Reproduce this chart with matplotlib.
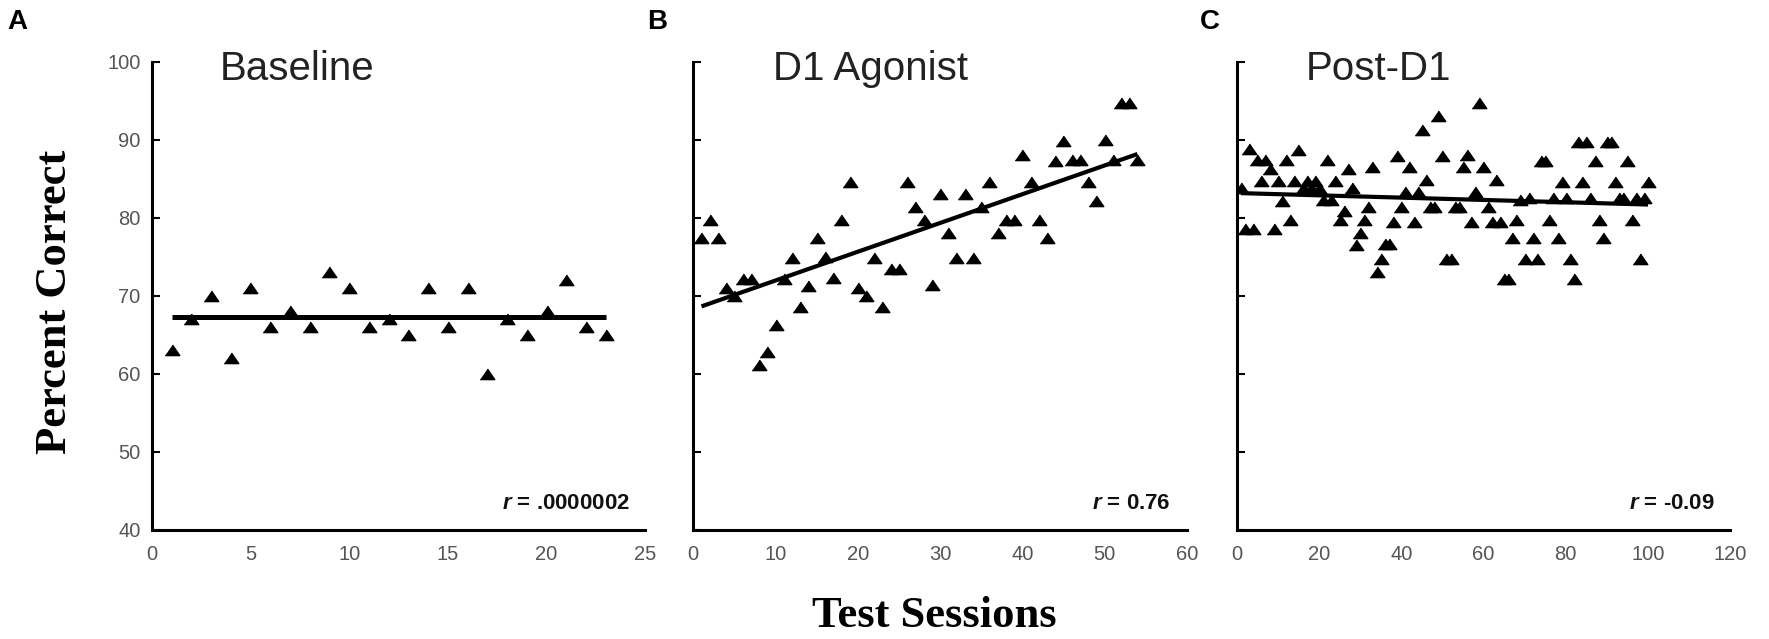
import numpy as np
import matplotlib
matplotlib.use("Agg")
import matplotlib.pyplot as plt

plt.rcParams.update({"font.family": ["Liberation Sans", "DejaVu Sans"],
                     "mathtext.fontset": "custom",
                     "mathtext.it": "Liberation Sans:bold:italic",
                     "mathtext.rm": "Liberation Sans:bold"})

# ---- data ----
sessions_a = np.arange(1, 24)
pct_a = [63, 67, 70, 62, 71, 66, 68, 66, 73, 71, 66, 67, 65, 71, 66, 71,
         60, 67, 65, 68, 72, 66, 65]

sessions_b = np.arange(1, 55)
pct_b = [77.4, 79.7, 77.4, 71.0, 70.0, 72.2, 72.2, 61.1, 62.8, 66.2,
         72.2, 74.8, 68.6, 71.2, 77.4, 75.0, 72.3, 79.7, 84.6, 71.0,
         69.9, 74.8, 68.6, 73.4, 73.4, 84.6, 81.4, 79.7, 71.4, 83.1,
         78.0, 74.8, 83.1, 74.8, 81.4, 84.6, 78.0, 79.7, 79.7, 88.0,
         84.6, 79.7, 77.4, 87.3, 89.8, 87.4, 87.4, 84.6, 82.1, 89.9,
         87.4, 94.7, 94.7, 87.4]

sessions_c = np.arange(1, 101)
pct_c = [83.8, 78.5, 88.8, 78.5, 87.4, 84.7, 87.4, 86.3, 78.5, 84.7,
         82.1, 87.4, 79.7, 84.7, 88.7, 83.8, 84.7, 83.8, 84.7, 83.8,
         82.3, 87.4, 82.3, 84.7, 79.7, 80.8, 86.2, 83.8, 76.5, 78.0,
         79.7, 81.4, 86.5, 73.1, 74.7, 76.6, 76.6, 79.5, 87.9, 81.4,
         83.3, 86.5, 79.5, 83.3, 91.3, 84.8, 81.4, 81.4, 93.0, 87.9,
         74.7, 74.7, 81.4, 81.4, 86.5, 88.0, 79.5, 83.3, 94.7, 86.5,
         81.4, 79.5, 84.8, 79.5, 72.2, 72.2, 77.4, 79.7, 82.3, 74.7,
         82.5, 77.4, 74.7, 87.3, 87.3, 79.7, 82.5, 77.4, 84.6, 82.5,
         74.7, 72.2, 89.7, 84.6, 89.7, 82.5, 87.3, 79.7, 77.4, 89.7,
         89.7, 84.6, 82.5, 82.5, 87.3, 79.7, 82.5, 74.7, 82.5, 84.6]

titles = ["Baseline", "D1 Agonist", "Post-D1"]
r_labels = ["$r$ = .0000002", "$r$ = 0.76", "$r$ = -0.09"]
panel_letters = ["A", "B", "C"]
xmax = [25, 60, 120]
xstep = [5, 10, 20]

fig = plt.figure(figsize=(17.69, 6.39), dpi=100)
lefts = [0.0858, 0.3919, 0.6991]
title_x = [0.295, 0.360, 0.287]
letter_x = [0.004, 0.366, 0.678]
fit_lw = [3.6, 3.0, 3.0]
tri = [(-1, -0.7), (1, -0.7), (0, 0.75)]

data = [(sessions_a, pct_a), (sessions_b, pct_b), (sessions_c, pct_c)]
for i, (xs, ys) in enumerate(data):
    ax = fig.add_axes([lefts[i], 0.1711, 0.2790, 0.7323])
    xs = np.asarray(xs, float); ys = np.asarray(ys, float)
    ax.plot(xs, ys, ls="none", marker=tri, ms=10.5, color="black", mec="black")
    # least-squares trend line through the sessions
    k, b = np.polyfit(xs, ys, 1)
    xl = np.array([xs.min(), xs.max()])
    ax.plot(xl, k * xl + b, color="black", lw=fit_lw[i], solid_capstyle="butt")
    ax.set_xlim(0, xmax[i]); ax.set_ylim(40, 100)
    ax.set_xticks(np.arange(0, xmax[i] + 1, xstep[i]))
    ax.set_yticks(np.arange(40, 101, 10))
    for s in ("top", "right"):
        ax.spines[s].set_visible(False)
    for s in ("left", "bottom"):
        ax.spines[s].set_linewidth(2.2)
    ax.tick_params(axis="y", direction="in", length=6, width=1.5, pad=8,
                   labelsize=14.5, labelcolor="#555555", labelleft=(i == 0))
    ax.tick_params(axis="x", length=0, pad=11, labelsize=14.5, labelcolor="#555555")
    ax.text(title_x[i], 0.984, titles[i], transform=ax.transAxes, ha="center",
            va="center", fontsize=29, color="#222222")
    ax.text(0.968, 0.055, r_labels[i], transform=ax.transAxes, ha="right",
            va="center", fontsize=16, fontweight="bold", color="#111111")
    fig.text(letter_x[i], 0.966, panel_letters[i], fontsize=20, fontweight="bold",
             ha="left", va="center")

fig.text(0.031, 0.527, "Percent Correct", rotation=90, ha="center", va="center",
         fontsize=32, fontweight="bold", family=["Liberation Serif", "DejaVu Serif"])
fig.text(0.528, 0.036, "Test Sessions", ha="center", va="center",
         fontsize=32, fontweight="bold", family=["Liberation Serif", "DejaVu Serif"])

fig.savefig("out.png", dpi=100)
